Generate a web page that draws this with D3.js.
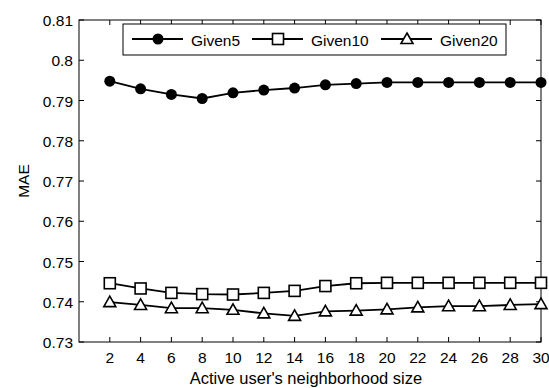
<!DOCTYPE html>
<html>
<head>
<meta charset="utf-8">
<script src="https://cdn.jsdelivr.net/npm/d3@7"></script>
<style>
body { margin: 0; background: #fff; }
text { font-family: "Liberation Sans", Arial, sans-serif; }
</style>
</head>
<body>
<svg id="chart" width="549" height="388"></svg>
<script>
var neighbors = [2, 4, 6, 8, 10, 12, 14, 16, 18, 20, 22, 24, 26, 28, 30];
var given5 = [0.7948, 0.7929, 0.7915, 0.7905, 0.7919, 0.7926, 0.7931, 0.7939, 0.7942, 0.7945, 0.7945, 0.7945, 0.7945, 0.7945, 0.7945];
var given10 = [0.7446, 0.7433, 0.7422, 0.7419, 0.7418, 0.7422, 0.7427, 0.7439, 0.7446, 0.7447, 0.7447, 0.7447, 0.7447, 0.7447, 0.7447];
var given20 = [0.7399, 0.7392, 0.7384, 0.7384, 0.7380, 0.7371, 0.7365, 0.7376, 0.7378, 0.7381, 0.7386, 0.7389, 0.7389, 0.7392, 0.7394];
var yTicks = [0.73, 0.74, 0.75, 0.76, 0.77, 0.78, 0.79, 0.8, 0.81];
var seriesNames = ["Given5", "Given10", "Given20"];

var svg = d3.select("#chart");
var pLeft = 79, pRight = 541, pTop = 20, pBottom = 342;
var fs = "15.5px";

var x = d3.scaleLinear().domain([0, 30]).range([pLeft, pRight]);
var y = d3.scaleLinear().domain([0.73, 0.81]).range([pBottom, pTop]);

var g = svg.append("g");

// frame
g.append("rect")
  .attr("x", pLeft).attr("y", pTop)
  .attr("width", pRight - pLeft).attr("height", pBottom - pTop)
  .style("fill", "none").style("stroke", "#000").style("stroke-width", 1);

// ticks inward on all sides
var tickLen = 5;
neighbors.forEach(function(t) {
  g.append("line").attr("x1", x(t)).attr("x2", x(t)).attr("y1", pBottom).attr("y2", pBottom - tickLen).style("stroke", "#000");
  g.append("line").attr("x1", x(t)).attr("x2", x(t)).attr("y1", pTop).attr("y2", pTop + tickLen).style("stroke", "#000");
  g.append("text").attr("x", x(t)).attr("y", 363)
    .attr("text-anchor", "middle").style("font-size", fs).text(t);
});
yTicks.forEach(function(t) {
  g.append("line").attr("x1", pLeft).attr("x2", pLeft + tickLen).attr("y1", y(t)).attr("y2", y(t)).style("stroke", "#000");
  g.append("line").attr("x1", pRight).attr("x2", pRight - tickLen).attr("y1", y(t)).attr("y2", y(t)).style("stroke", "#000");
  g.append("text").attr("x", 73).attr("y", y(t) + 6)
    .attr("text-anchor", "end").style("font-size", fs).text(d3.format("")(t));
});

g.append("text").attr("x", 306).attr("y", 384)
  .attr("text-anchor", "middle").style("font-size", "16.5px").text("Active user's neighborhood size");
g.append("text").attr("transform", "translate(29," + ((pTop + pBottom) / 2) + ") rotate(-90)")
  .attr("text-anchor", "middle").style("font-size", fs).text("MAE");

var line = d3.line().x(function(d, i) { return x(neighbors[i]); }).y(function(d) { return y(d); });

function marker(sel, kind, cx, cy) {
  if (kind === 0) {
    sel.append("circle").attr("cx", cx).attr("cy", cy).attr("r", 5.5).style("fill", "#000");
  } else if (kind === 1) {
    sel.append("rect").attr("x", cx - 5.5).attr("y", cy - 5.5).attr("width", 11).attr("height", 11)
      .style("fill", "#fff").style("stroke", "#000").style("stroke-width", 1.6);
  } else {
    sel.append("path").attr("d", "M" + cx + "," + (cy - 6) + "L" + (cx + 6) + "," + (cy + 4.5) + "L" + (cx - 6) + "," + (cy + 4.5) + "Z")
      .style("fill", "#fff").style("stroke", "#000").style("stroke-width", 1.6);
  }
}

[given5, given10, given20].forEach(function(s, k) {
  g.append("path").datum(s).attr("d", line)
    .style("fill", "none").style("stroke", "#000").style("stroke-width", 1.8);
  s.forEach(function(v, i) { marker(g, k, x(neighbors[i]), y(v)); });
});

// legend
var leg = g.append("g");
leg.append("rect").attr("x", 123).attr("y", 24).attr("width", 383).attr("height", 31)
  .style("fill", "#fff").style("stroke", "#000").style("stroke-width", 1);
var legX = [132, 252, 381];
seriesNames.forEach(function(n, k) {
  var lx = legX[k], ly = 39;
  leg.append("line").attr("x1", lx).attr("x2", lx + 51).attr("y1", ly).attr("y2", ly)
    .style("stroke", "#000").style("stroke-width", 1.8);
  marker(leg, k, lx + 26, ly);
  leg.append("text").attr("x", lx + 59).attr("y", ly + 7).style("font-size", fs).text(n);
});
</script>
</body>
</html>
